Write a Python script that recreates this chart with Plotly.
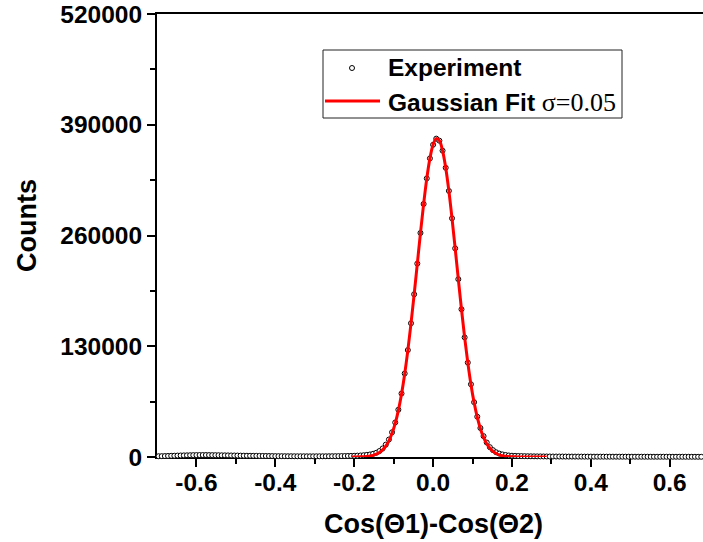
import plotly.graph_objects as go

# ---------------- data ----------------
EXP_X = [
    -0.696, -0.688, -0.680, -0.672, -0.664, -0.656, -0.648, -0.640,
    -0.632, -0.624, -0.616, -0.608, -0.600, -0.592, -0.584, -0.576, -0.568, -0.560,
    -0.552, -0.544, -0.536, -0.528, -0.520, -0.512, -0.504, -0.496, -0.488, -0.480,
    -0.472, -0.464, -0.456, -0.448, -0.440, -0.432, -0.424, -0.416, -0.408, -0.400,
    -0.392, -0.384, -0.376, -0.368, -0.360, -0.352, -0.344, -0.336, -0.328, -0.320,
    -0.312, -0.304, -0.296, -0.288, -0.280, -0.272, -0.264, -0.256, -0.248, -0.240,
    -0.232, -0.224, -0.216, -0.208,
    -0.200, -0.192, -0.184, -0.176, -0.168, -0.160, -0.152, -0.144, -0.136, -0.128,
    -0.120, -0.112, -0.104, -0.096, -0.088, -0.080, -0.072, -0.064, -0.056, -0.048,
    -0.040, -0.032, -0.024, -0.016, -0.008, 0.000, 0.008, 0.016, 0.024, 0.032,
    0.040, 0.048, 0.056, 0.064, 0.072, 0.080, 0.088, 0.096, 0.104, 0.112,
    0.120, 0.128, 0.136, 0.144, 0.152, 0.160, 0.168, 0.176, 0.184, 0.192,
    0.200, 0.208, 0.216, 0.224, 0.232, 0.240, 0.248, 0.256, 0.264, 0.272,
    0.280, 0.288, 0.296, 0.304, 0.312, 0.320, 0.328, 0.336, 0.344, 0.352,
    0.360, 0.368, 0.376, 0.384, 0.392, 0.400, 0.408, 0.416, 0.424, 0.432,
    0.440, 0.448, 0.456, 0.464, 0.472, 0.480, 0.488, 0.496, 0.504, 0.512,
    0.520, 0.528, 0.536, 0.544, 0.552, 0.560, 0.568, 0.576, 0.584, 0.592,
    0.600, 0.608, 0.616, 0.624, 0.632, 0.640, 0.648, 0.656, 0.664, 0.672,
    0.680, 0.688, 0.696, 0.704,
]
EXP_Y = [
    900, 1000, 1100, 1250, 1400, 1500, 1650, 1800,
    1900, 2000, 2100, 2200, 2250, 2300, 2300, 2300, 2250, 2200,
    2150, 2100, 2000, 1950, 1900, 1800, 1750, 1700, 1600, 1550,
    1500, 1450, 1400, 1350, 1300, 1250, 1200, 1150, 1100, 1050,
    1000, 980, 950, 920, 900, 880, 860, 850, 840, 830,
    820, 820, 830, 840, 850, 870, 900, 940, 990, 1050,
    1100, 1150, 1250, 1320,
    1400, 1600, 1800, 2100, 2500, 3000, 3800, 5000, 7000, 10000,
    14500, 20500, 29000, 40500, 55500, 74500, 98000, 125500, 157000, 191000,
    227000, 263000, 297000, 327000, 350500, 366500, 373700, 371300, 359600, 339500,
    312400, 280200, 244900, 208700, 173400, 140400, 110800, 85400, 64300, 47300,
    34000, 24500, 17000, 11500, 8000, 5500, 4000, 3000, 2300, 1800,
    1500, 1350, 1200, 1100, 1000, 900, 850, 800, 750, 700,
    650, 620, 600, 580, 560, 540, 520, 500, 490, 480,
    470, 460, 450, 440, 430, 420, 410, 400, 400, 390,
    380, 380, 370, 370, 360, 360, 350, 350, 340, 340,
    330, 330, 320, 320, 310, 310, 300, 300, 300, 290,
    290, 280, 280, 280, 270, 270, 260, 260, 260, 250,
    250, 250, 240, 240,
]

FIT_X = [
    -0.208, -0.200, -0.192, -0.184, -0.176, -0.168, -0.160, -0.152, -0.144, -0.136,
    -0.128, -0.120, -0.112, -0.104, -0.096, -0.088, -0.080, -0.072, -0.064, -0.056,
    -0.048, -0.040, -0.032, -0.024, -0.016, -0.008, 0.000, 0.008, 0.016, 0.024,
    0.032, 0.040, 0.048, 0.056, 0.064, 0.072, 0.080, 0.088, 0.096, 0.104,
    0.112, 0.120, 0.128, 0.136, 0.144, 0.152, 0.160, 0.168, 0.176, 0.184,
    0.192, 0.200, 0.208, 0.216, 0.224, 0.232, 0.240, 0.248, 0.256, 0.264,
    0.272, 0.280, 0.288,
]
FIT_Y = [
    28, 55, 107, 201, 370, 660, 1160, 1960, 3260, 5290,
    8310, 12700, 19000, 27800, 39500, 54800, 74000, 97500, 125100, 156500,
    190800, 226800, 262800, 296800, 326800, 350500, 366600, 373700, 371300, 359600,
    339500, 312400, 280200, 244900, 208700, 173400, 140400, 110800, 85200, 63900,
    46700, 33200, 23100, 15600, 10300, 6600, 4150, 2540, 1510, 875,
    497, 274, 147, 77, 39, 19, 9, 4, 2, 1,
    0, 0, 0,
]
assert len(EXP_X) == len(EXP_Y) and len(FIT_X) == len(FIT_Y)

X_TICKS = [-0.6, -0.4, -0.2, 0.0, 0.2, 0.4, 0.6]
X_TICK_TEXT = ["-0.6", "-0.4", "-0.2", "0.0", "0.2", "0.4", "0.6"]
X_MINOR = [-0.5, -0.3, -0.1, 0.1, 0.3, 0.5]
Y_TICKS = [0, 130000, 260000, 390000, 520000]
Y_TICK_TEXT = ["0", "130000", "260000", "390000", "520000"]
Y_MINOR = [65000, 195000, 325000, 455000]

X_TITLE = "Cos(Θ1)-Cos(Θ2)"
Y_TITLE = "Counts"
LEG_EXP = "Experiment"
LEG_FIT = "Gaussian Fit "
LEG_SIGMA = "σ=0.05"

# ---------------- layout geometry (pixels) ----------------
W, H = 703, 542
ML, MR, MT, MB = 157, 0, 14, 85
PW, PH = W - ML - MR, H - MT - MB


def px(xp):
    return (xp - ML) / PW


def py(yp):
    return (H - MB - yp) / PH


FONT = "Liberation Sans, Arial, sans-serif"

fig = go.Figure()
fig.add_trace(go.Scatter(
    x=EXP_X, y=EXP_Y, mode="markers", name=LEG_EXP, showlegend=False,
    cliponaxis=False,
    marker=dict(symbol="circle", size=5, color="white",
                line=dict(color="black", width=1)),
))
fig.add_trace(go.Scatter(
    x=FIT_X, y=FIT_Y, mode="lines", name="Gaussian Fit", showlegend=False,
    cliponaxis=False, line=dict(color="#ff0000", width=3, shape="spline"),
))

axis_common = dict(
    showgrid=False, zeroline=False, showline=True, linecolor="black",
    linewidth=2, ticks="outside", ticklen=8, tickwidth=2, tickcolor="black",
    tickfont=dict(family=FONT, size=24.5, color="black", weight="bold"),
    layer="below traces",
)
fig.update_xaxes(
    range=[-0.7, -0.7 + PW / 394.4], tickvals=X_TICKS, ticktext=X_TICK_TEXT,
    mirror=True, ticklabelstandoff=-5,
    minor=dict(tickvals=X_MINOR, ticks="outside", ticklen=5, tickwidth=2,
               tickcolor="black"),
    **axis_common,
)
fig.update_yaxes(
    range=[0, 520000], tickvals=Y_TICKS, ticktext=Y_TICK_TEXT,
    minor=dict(tickvals=Y_MINOR, ticks="outside", ticklen=5, tickwidth=2,
               tickcolor="black"),
    **axis_common,
)

annotations = [
    dict(text=X_TITLE, x=px(433), y=py(524), xref="paper", yref="paper",
         showarrow=False, xanchor="center", yanchor="middle",
         font=dict(family=FONT, size=27, color="black", weight="bold")),
    dict(text=Y_TITLE, x=px(27), y=py(226), xref="paper", yref="paper",
         showarrow=False, xanchor="center", yanchor="middle", textangle=-90,
         font=dict(family=FONT, size=27, color="black", weight="bold")),
    dict(text=LEG_EXP, x=px(386), y=py(68), xref="paper", yref="paper",
         showarrow=False, xanchor="left", yanchor="middle",
         font=dict(family=FONT, size=24.5, color="black", weight="bold")),
    dict(text=LEG_FIT + "<span style='font-family:Liberation Serif;font-weight:normal;font-size:26px'>"
         + LEG_SIGMA + "</span>",
         x=px(386), y=py(102), xref="paper", yref="paper",
         showarrow=False, xanchor="left", yanchor="middle",
         font=dict(family=FONT, size=24.5, color="black", weight="bold")),
]

shapes = [
    dict(type="rect", xref="paper", yref="paper", x0=px(323), x1=px(622),
         y0=py(118), y1=py(50), line=dict(color="#222", width=1),
         fillcolor="white", layer="below"),
    dict(type="line", xref="paper", yref="paper", x0=px(325), x1=px(380),
         y0=py(101), y1=py(101), line=dict(color="#ff0000", width=3)),
    dict(type="circle", xref="paper", yref="paper", x0=px(349.5), x1=px(354.5),
         y0=py(70.5), y1=py(65.5), line=dict(color="black", width=1),
         fillcolor="white"),
]

fig.update_layout(
    width=W, height=H, margin=dict(l=ML, r=MR, t=MT, b=MB),
    plot_bgcolor="white", paper_bgcolor="white",
    font=dict(family=FONT, color="black"),
    annotations=annotations, shapes=shapes, showlegend=False,
)

fig.write_html("out.html")
